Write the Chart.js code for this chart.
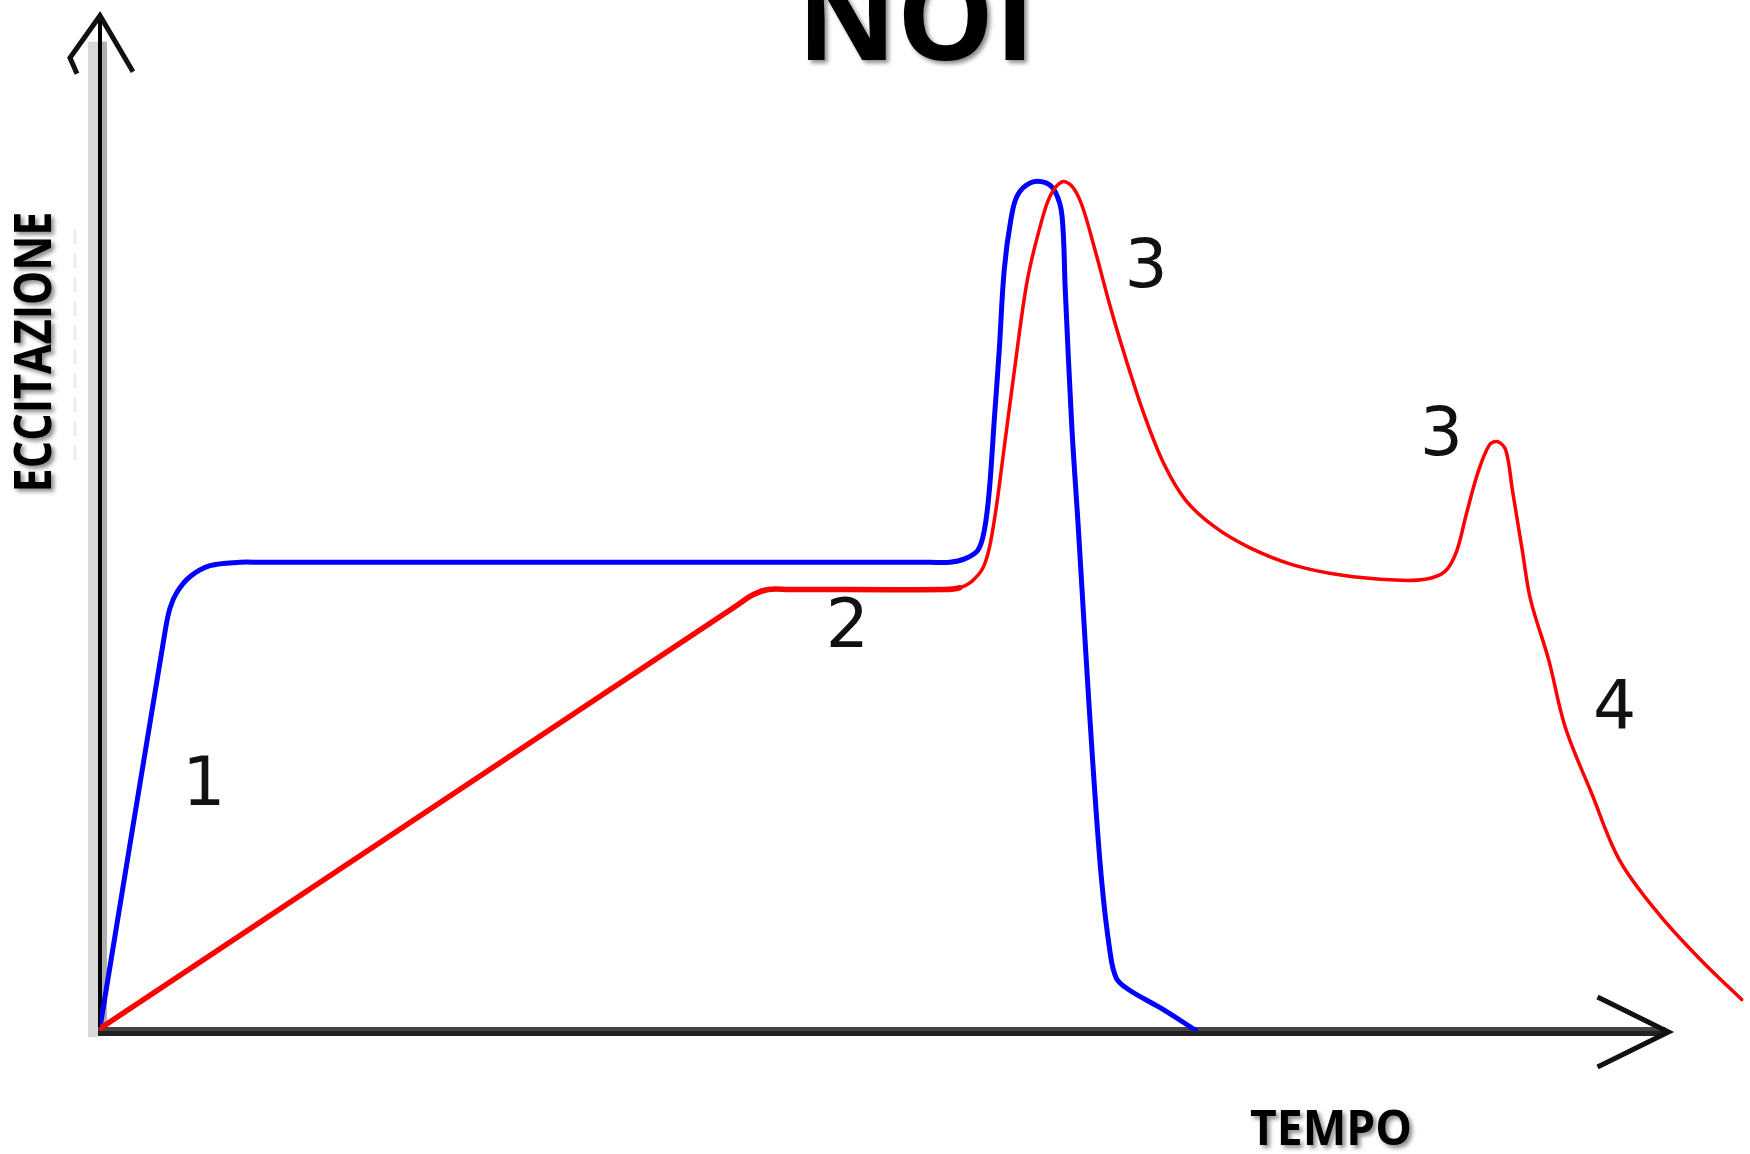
<!DOCTYPE html>
<html>
<head>
<meta charset="utf-8">
<title>NOI</title>
<script src="https://cdn.jsdelivr.net/npm/chart.js@4.4.1/dist/chart.umd.min.js"></script>
<style>
    html, body { margin: 0; padding: 0; background: #fff; }
    canvas { display: block; }
</style>
</head>
<body>
<canvas id="noiChart" width="1750" height="1154"></canvas>
<script>
// Curve values (time 0..100, excitation 0..120)
const blueTime = [0, 3.94, 4.24, 4.67, 5.45, 6.67, 8.48, 9.70, 50.3, 51.5, 52.4, 53.2, 53.6, 53.9, 54.2, 54.5, 54.8, 55.2, 55.6, 56.4, 57.3, 57.9, 58.3, 58.5, 58.9, 59.3, 59.7, 60.2, 60.7, 61.2, 61.6, 62.4, 64.2, 66.4];
const blueExc  = [0.4, 47.0, 49.8, 51.7, 53.5, 54.8, 55.2, 55.2, 55.2, 55.2, 55.6, 56.6, 59.0, 63.7, 72.0, 80.2, 89.6, 95.5, 98.4, 99.9, 99.9, 98.8, 96.1, 87.3, 71.1, 59.0, 46.0, 30.7, 17.8, 9.5, 6.2, 4.8, 2.8, 0.1];

const redTime = [0, 38.5, 39.6, 40.5, 41.8, 51.2, 52.1, 52.8, 53.5, 53.9, 54.3, 54.7, 55.5, 56.2, 57.0, 57.6, 58.3, 58.9, 59.5, 60.3, 61.2, 62.1, 63.3, 64.5, 65.8, 67.6, 69.7, 72.3, 75.2, 78.5, 80.3, 81.5, 82.2, 82.8, 83.5, 84.2, 84.7, 85.2, 85.6, 86.2, 86.7, 87.8, 88.8, 90.4, 92.1, 94.5, 97.0, 99.5];
const redExc  = [0.3, 50.0, 51.4, 52.0, 52.0, 52.0, 52.2, 52.9, 54.5, 56.9, 61.4, 67.2, 79.0, 88.4, 94.9, 98.4, 100.0, 99.5, 97.3, 92.0, 85.5, 79.6, 72.5, 66.7, 62.5, 59.3, 56.9, 54.9, 53.7, 53.1, 53.2, 54.1, 56.4, 60.8, 65.7, 69.0, 69.4, 68.4, 63.7, 56.6, 50.8, 43.7, 35.8, 28.0, 20.1, 13.7, 8.4, 3.7];

// Phase numbers written next to the curves
const phaseLabels = ['1', '2', '3', '3', '4'];
const phaseTime   = [6.3, 45.3, 63.4, 81.3, 91.8];
const phaseExc    = [28.7, 47.3, 89.7, 69.9, 37.6];

const toPoints = (xs, ys) => xs.map((x, i) => ({ x: x, y: ys[i] }));

// Axes with arrows, drawn by hand
const axesPlugin = {
    id: 'axes',
    beforeDatasetsDraw(chart) {
        const ctx = chart.ctx;
        const xs = chart.scales.x, ys = chart.scales.y;
        const ox = xs.getPixelForValue(0), oy = ys.getPixelForValue(0);
        const xEnd = xs.getPixelForValue(95.0);
        const yTop = ys.getPixelForValue(119.8);
        ctx.save();
        // faint dashed guide left of the axis
        ctx.strokeStyle = '#ececec';
        ctx.lineWidth = 3;
        ctx.setLineDash([14, 10]);
        ctx.beginPath();
        ctx.moveTo(ox - 25, 230);
        ctx.lineTo(ox - 25, 460);
        ctx.stroke();
        ctx.setLineDash([]);
        // shading around y axis
        ctx.fillStyle = '#d9d9d9';
        ctx.fillRect(ox - 12, yTop + 28, 10, oy - yTop - 22);
        ctx.fillStyle = '#b0b0b0';
        ctx.fillRect(ox + 2, yTop + 28, 5, oy - yTop - 26);
        // y axis
        ctx.fillStyle = '#000';
        ctx.fillRect(ox - 2, yTop, 4, oy - yTop + 5);
        // x axis
        ctx.fillStyle = '#444';
        ctx.fillRect(ox - 2, oy - 4, xEnd - ox, 4);
        ctx.fillStyle = '#222';
        ctx.fillRect(ox - 2, oy, xEnd - ox, 5);
        // arrow heads
        ctx.strokeStyle = '#111';
        ctx.lineWidth = 5;
        ctx.lineJoin = 'miter';
        ctx.beginPath();
        ctx.moveTo(ox - 23, yTop + 60);
        ctx.lineTo(ox - 30, yTop + 44);
        ctx.lineTo(ox, yTop + 2);
        ctx.lineTo(ox + 33, yTop + 58);
        ctx.stroke();
        ctx.beginPath();
        ctx.moveTo(xEnd - 70, oy - 34);
        ctx.lineTo(xEnd + 1, oy + 1);
        ctx.lineTo(xEnd - 70, oy + 36);
        ctx.stroke();
        ctx.restore();
    },
    afterDatasetsDraw(chart) {
        const ctx = chart.ctx;
        const xs = chart.scales.x, ys = chart.scales.y;
        ctx.save();
        // phase numbers
        ctx.fillStyle = '#111';
        ctx.font = '68px "DejaVu Sans"';
        ctx.textAlign = 'center';
        ctx.textBaseline = 'middle';
        phaseLabels.forEach((t, i) => {
            ctx.fillText(t, xs.getPixelForValue(phaseTime[i]), ys.getPixelForValue(phaseExc[i]));
        });
        // titles with a soft shadow
        ctx.shadowColor = 'rgba(0,0,0,0.45)';
        ctx.shadowOffsetX = 3;
        ctx.shadowOffsetY = 3;
        ctx.shadowBlur = 4;
        ctx.fillStyle = '#000';
        ctx.textBaseline = 'alphabetic';
        ctx.font = 'bold 124px "Open Sans"';
        ctx.fillText('NOI', 916, 60, 238);
        ctx.font = 'bold 49px "Open Sans"';
        ctx.fillText('TEMPO', 1331, 1145, 162);
        ctx.translate(51, 352);
        ctx.rotate(-Math.PI / 2);
        ctx.font = 'bold 52px "Open Sans"';
        ctx.fillText('ECCITAZIONE', 0, 0, 281);
        ctx.restore();
    }
};

new Chart(document.getElementById('noiChart').getContext('2d'), {
    type: 'line',
    data: {
        datasets: [{
            data: toPoints(redTime, redExc),
            borderColor: '#ff0000',
            borderWidth: 4,
            borderCapStyle: 'round',
            borderJoinStyle: 'round',
            segment: {
                borderWidth: ctx => ctx.p0DataIndex < 6 ? 5.5 : 3.5
            },
            tension: 0.35,
            pointRadius: 0,
            fill: false
        }, {
            data: toPoints(blueTime, blueExc),
            borderColor: '#0000ff',
            borderWidth: 5,
            borderCapStyle: 'round',
            borderJoinStyle: 'round',
            tension: 0.35,
            pointRadius: 0,
            fill: false
        }]
    },
    options: {
        responsive: false,
        animation: false,
        devicePixelRatio: 1,
        layout: { padding: { left: 100, right: 0, top: 12, bottom: 123 } },
        scales: {
            x: { type: 'linear', min: 0, max: 100, display: false },
            y: { min: 0, max: 120, display: false }
        },
        plugins: {
            legend: { display: false },
            tooltip: { enabled: false },
            title: { display: false }
        }
    },
    plugins: [axesPlugin]
});
</script>
</body>
</html>
